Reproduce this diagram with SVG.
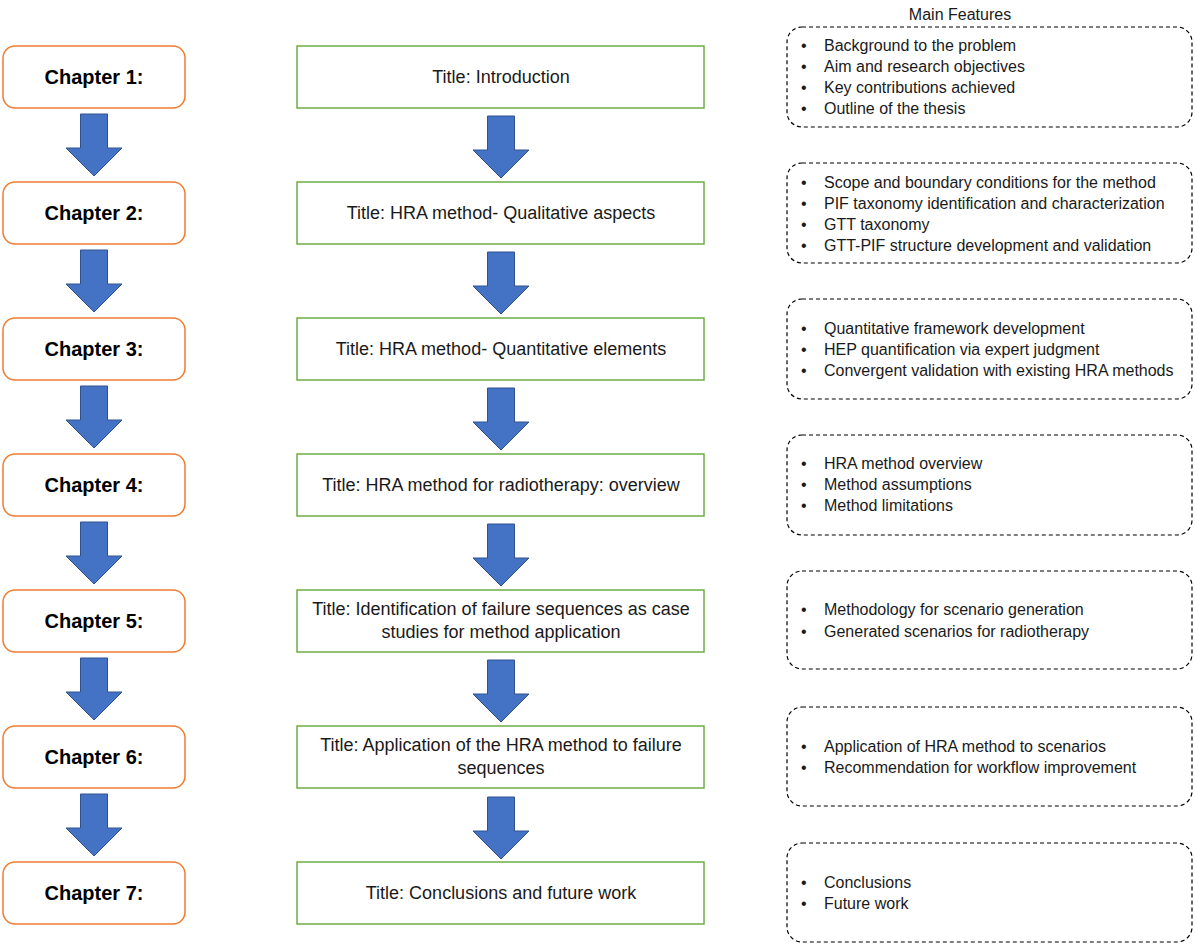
<svg xmlns="http://www.w3.org/2000/svg" width="1195" height="946" viewBox="0 0 1195 946">
  <style>
    .chap rect { fill: #ffffff; stroke: #ED7D31; stroke-width: 1.5; }
    .chap text { font-family: "Liberation Sans", Arial, sans-serif; font-weight: bold; font-size: 20px; fill: #000; text-anchor: middle; }
    .title rect { fill: #ffffff; stroke: #70AD47; stroke-width: 1.5; }
    .title text { font-family: "Liberation Sans", Arial, sans-serif; font-size: 18px; fill: #1a1a1a; text-anchor: middle; }
    .feat rect { fill: none; stroke: #000; stroke-width: 1.2; stroke-dasharray: 4 3; }
    .feat text { font-family: "Liberation Sans", Arial, sans-serif; font-size: 16px; fill: #1a1a1a; }
    .head { font-family: "Liberation Sans", Arial, sans-serif; font-size: 16px; fill: #1a1a1a; text-anchor: middle; }
    .arrow { fill: #4472C4; stroke: #2F528F; stroke-width: 1; }
  </style>
  <defs>
    <!-- block arrow, origin at top centre of the shaft -->
    <path id="blk" d="M -13.5 0 H 13.5 V 34 H 28 L 0 62 L -28 34 H -13.5 Z"/>
  </defs>
  <rect width="1195" height="946" fill="#ffffff"/>

  <text class="head" x="960" y="20">Main Features</text>

  <!-- chapter column -->
  <g id="chapter1" class="chap"><rect x="3" y="46" width="182" height="62" rx="12"/><text x="94" y="84">Chapter 1:</text></g>
  <g id="chapter2" class="chap"><rect x="3" y="182" width="182" height="62" rx="12"/><text x="94" y="220">Chapter 2:</text></g>
  <g id="chapter3" class="chap"><rect x="3" y="318" width="182" height="62" rx="12"/><text x="94" y="356">Chapter 3:</text></g>
  <g id="chapter4" class="chap"><rect x="3" y="454" width="182" height="62" rx="12"/><text x="94" y="492">Chapter 4:</text></g>
  <g id="chapter5" class="chap"><rect x="3" y="590" width="182" height="62" rx="12"/><text x="94" y="628">Chapter 5:</text></g>
  <g id="chapter6" class="chap"><rect x="3" y="726" width="182" height="62" rx="12"/><text x="94" y="764">Chapter 6:</text></g>
  <g id="chapter7" class="chap"><rect x="3" y="862" width="182" height="62" rx="12"/><text x="94" y="900">Chapter 7:</text></g>

  <!-- title column -->
  <g id="title1" class="title"><rect x="297" y="46" width="407" height="62"/><text x="501" y="83">Title: Introduction</text></g>
  <g id="title2" class="title"><rect x="297" y="182" width="407" height="62"/><text x="501" y="219">Title: HRA method- Qualitative aspects</text></g>
  <g id="title3" class="title"><rect x="297" y="318" width="407" height="62"/><text x="501" y="355">Title: HRA method- Quantitative elements</text></g>
  <g id="title4" class="title"><rect x="297" y="454" width="407" height="62"/><text x="501" y="491">Title: HRA method for radiotherapy: overview</text></g>
  <g id="title5" class="title"><rect x="297" y="590" width="407" height="62"/><text x="501" y="615">Title: Identification of failure sequences as case</text><text x="501" y="638">studies for method application</text></g>
  <g id="title6" class="title"><rect x="297" y="726" width="407" height="62"/><text x="501" y="751">Title: Application of the HRA method to failure</text><text x="501" y="774">sequences</text></g>
  <g id="title7" class="title"><rect x="297" y="862" width="407" height="62"/><text x="501" y="899">Title: Conclusions and future work</text></g>

  <!-- feature column -->
  <g id="features1" class="feat">
    <rect x="787" y="27" width="405" height="100" rx="15"/>
    <text x="801" y="51">•</text><text x="824" y="51">Background to the problem</text>
    <text x="801" y="72">•</text><text x="824" y="72">Aim and research objectives</text>
    <text x="801" y="93">•</text><text x="824" y="93">Key contributions achieved</text>
    <text x="801" y="114">•</text><text x="824" y="114">Outline of the thesis</text>
  </g>
  <g id="features2" class="feat">
    <rect x="787" y="163" width="405" height="100" rx="15"/>
    <text x="801" y="188">•</text><text x="824" y="188">Scope and boundary conditions for the method</text>
    <text x="801" y="209">•</text><text x="824" y="209">PIF taxonomy identification and characterization</text>
    <text x="801" y="230">•</text><text x="824" y="230">GTT taxonomy</text>
    <text x="801" y="251">•</text><text x="824" y="251">GTT-PIF structure development and validation</text>
  </g>
  <g id="features3" class="feat">
    <rect x="787" y="299" width="405" height="100" rx="15"/>
    <text x="801" y="334">•</text><text x="824" y="334">Quantitative framework development</text>
    <text x="801" y="355">•</text><text x="824" y="355">HEP quantification via expert judgment</text>
    <text x="801" y="376">•</text><text x="824" y="376">Convergent validation with existing HRA methods</text>
  </g>
  <g id="features4" class="feat">
    <rect x="787" y="435" width="405" height="100" rx="15"/>
    <text x="801" y="469">•</text><text x="824" y="469">HRA method overview</text>
    <text x="801" y="490">•</text><text x="824" y="490">Method assumptions</text>
    <text x="801" y="511">•</text><text x="824" y="511">Method limitations</text>
  </g>
  <g id="features5" class="feat">
    <rect x="787" y="571" width="405" height="98" rx="15"/>
    <text x="801" y="615">•</text><text x="824" y="615">Methodology for scenario generation</text>
    <text x="801" y="637">•</text><text x="824" y="637">Generated scenarios for radiotherapy</text>
  </g>
  <g id="features6" class="feat">
    <rect x="787" y="707" width="405" height="99" rx="15"/>
    <text x="801" y="752">•</text><text x="824" y="752">Application of HRA method to scenarios</text>
    <text x="801" y="773">•</text><text x="824" y="773">Recommendation for workflow improvement</text>
  </g>
  <g id="features7" class="feat">
    <rect x="787" y="843" width="405" height="99" rx="15"/>
    <text x="801" y="888">•</text><text x="824" y="888">Conclusions</text>
    <text x="801" y="909">•</text><text x="824" y="909">Future work</text>
  </g>

  <!-- connectors -->
  <g id="connectors" class="arrow">
    <use href="#blk" x="94" y="114"/>
    <use href="#blk" x="94" y="250"/>
    <use href="#blk" x="94" y="386"/>
    <use href="#blk" x="94" y="522"/>
    <use href="#blk" x="94" y="658"/>
    <use href="#blk" x="94" y="794"/>
    <use href="#blk" x="501" y="116"/>
    <use href="#blk" x="501" y="252"/>
    <use href="#blk" x="501" y="388"/>
    <use href="#blk" x="501" y="524"/>
    <use href="#blk" x="501" y="660"/>
    <use href="#blk" x="501" y="797"/>
  </g>
</svg>
